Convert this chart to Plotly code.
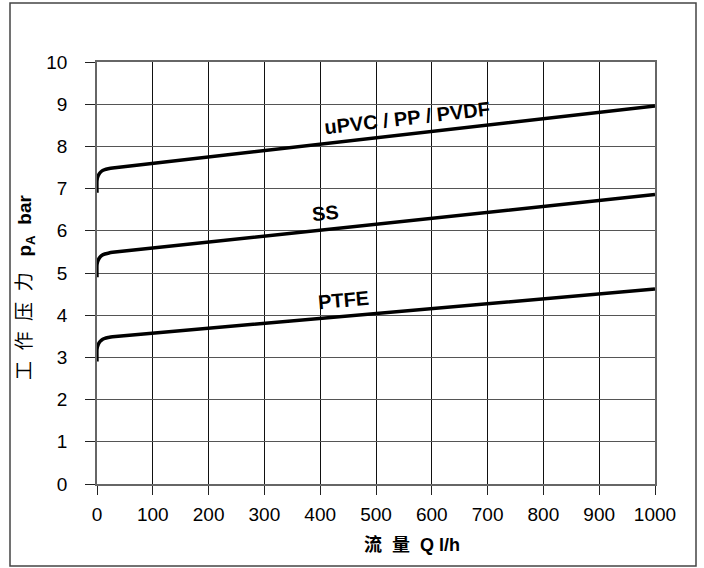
import plotly.graph_objects as go

# data
flow_q = [0, 0, 2, 5, 9, 14, 20, 28, 1000]
upvc_p = [6.9, 7.2, 7.3, 7.37, 7.42, 7.45, 7.47, 7.49, 8.96]
ss_p = [4.9, 5.2, 5.3, 5.37, 5.42, 5.45, 5.47, 5.49, 6.86]
ptfe_p = [2.9, 3.2, 3.3, 3.37, 3.42, 3.45, 3.47, 3.49, 4.62]
series_names = ["uPVC / PP / PVDF", "SS", "PTFE"]
x_ticks = [0, 100, 200, 300, 400, 500, 600, 700, 800, 900, 1000]
y_ticks = [0, 1, 2, 3, 4, 5, 6, 7, 8, 9, 10]

FONT = "Liberation Sans, Arial, Noto Sans CJK SC, sans-serif"

fig = go.Figure()
for name, ys in zip(series_names, [upvc_p, ss_p, ptfe_p]):
    fig.add_trace(go.Scatter(x=flow_q, y=ys, mode="lines", name=name,
                             line=dict(color="black", width=3.5, shape="spline", smoothing=0.6),
                             showlegend=False))

# curve labels
labels = [
    (series_names[0], 555, 8.67, -6.5),
    (series_names[1], 409, 6.43, -5.5),
    (series_names[2], 441, 4.37, -5),
]
for txt, x, y, ang in labels:
    fig.add_annotation(x=x, y=y, text="<b>%s</b>" % txt, showarrow=False, textangle=ang,
                       font=dict(family=FONT, size=20, color="black"))

# axis titles
fig.add_annotation(xref="paper", yref="paper", x=(412 - 97) / 558, y=(484 - 545) / 422,
                   xanchor="center", yanchor="middle",
                   text="<b>流  量  Q l/h</b>", showarrow=False,
                   font=dict(family=FONT, size=18, color="black"))
fig.add_annotation(xref="paper", yref="paper", x=(26 - 97) / 558, y=(484 - 288) / 422,
                   xanchor="center", yanchor="middle",
                   text="工  作  压  力   <b>p<sub>A</sub>  bar</b>", showarrow=False, textangle=-90,
                   font=dict(family=FONT, size=19, color="black"))

# outer border
fig.add_shape(type="rect", xref="paper", yref="paper",
              x0=(10 - 97) / 558, x1=(696 - 97) / 558,
              y0=(484 - 566) / 422, y1=(484 - 3) / 422,
              line=dict(color="#444", width=1.5))

fig.update_xaxes(range=[0, 1000], tickvals=x_ticks, ticktext=[str(v) for v in x_ticks],
                 showgrid=True, gridcolor="#111", gridwidth=1,
                 showline=True, linecolor="#666", linewidth=1.5, mirror=True,
                 ticks="outside", ticklen=9, tickcolor="#222", ticklabelstandoff=3,
                 zeroline=False, tickfont=dict(family=FONT, size=19, color="black"))
fig.update_yaxes(range=[0, 10], tickvals=y_ticks, ticktext=[str(v) for v in y_ticks],
                 showgrid=True, gridcolor="#555", gridwidth=1,
                 showline=True, linecolor="#666", linewidth=1.5, mirror=True,
                 ticks="outside", ticklen=10, tickcolor="#222", ticklabelstandoff=14,
                 zeroline=False, tickfont=dict(family=FONT, size=19, color="black"))

fig.update_layout(width=704, height=568, margin=dict(l=97, r=49, t=62, b=84),
                  paper_bgcolor="white", plot_bgcolor="white",
                  font=dict(family=FONT, color="black"))

fig.write_html("out.html", config={"displayModeBar": False},
               post_script="document.body.style.margin='0';")
